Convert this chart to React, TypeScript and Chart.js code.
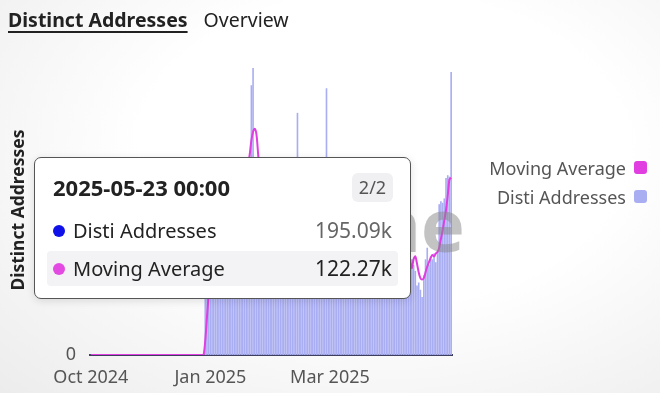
import React, { useEffect, useRef } from "react";
import { Chart, registerables } from "chart.js";

Chart.register(...registerables);

// ---- data ----
const START_DATE = "2024-10-24";
const DAY_COUNT = 212;
const TICK_INDICES = [0, 70, 140];
const MONTH_NAMES = ["Jan", "Feb", "Mar", "Apr", "May", "Jun", "Jul", "Aug", "Sep", "Oct", "Nov", "Dec"];
const Y_MAX = 200;
const Y_STEP = 100;

const SERIES_NAMES = ["Moving Average", "Disti Addresses"];
const LINE_COLOR = "#e03ee0";
const BAR_COLOR = "#a9adf2";
const TOOLTIP_DOT_COLORS = ["#1010e8", "#e24ae2"];

// Distinct addresses per day (thousands)
const BAR_VALUES = [
  0, 0, 0, 0, 0, 0, 0, 0, 0, 0, 0, 0, 0, 0, 0, 0, 0, 0, 0, 0,
  0, 0, 0, 0, 0, 0, 0, 0, 0, 0, 0, 0, 0, 0, 0, 0, 0, 0, 0, 0,
  0, 0, 0, 0, 0, 0, 0, 0, 0, 0, 0, 0, 0, 0, 0, 0, 0, 0, 0, 0,
  0, 0, 0, 0, 0, 0, 0,
  118, 125, 110, 122, 115, 128, 120, 112, 126, 119, 130, 121, 114, 124, 117, 127, 120,
  113, 125, 118, 129, 122, 116, 126, 131, 128, 133, 186, 198, 134, 130, 120, 112, 104,
  98, 102, 95, 100, 93, 97, 90, 96, 92, 99, 94, 89, 95, 91, 97, 88, 93, 90, 96, 92,
  167, 94, 89, 93, 87, 92, 88, 95, 90, 86, 91, 88, 93, 85, 90, 87, 92, 184, 89, 85,
  90, 84, 88, 82, 87, 83, 86, 80, 85, 81, 84, 79, 83, 78, 82, 77, 81, 76, 80, 75,
  79, 74, 78, 73, 76, 72, 75, 70, 74, 69, 73, 68, 71, 67, 70, 66, 69, 65, 68, 64,
  67, 63, 66, 62, 65,
  64, 60, 66, 62, 58, 48, 50, 45, 40, 55, 66, 74, 62, 68, 66, 70, 64, 72, 104, 106,
  105, 108, 122, 124, 123, 195.09,
];

// Moving average (thousands)
const MA_VALUES = [
  0, 0, 0, 0, 0, 0, 0, 0, 0, 0, 0, 0, 0, 0, 0, 0, 0, 0, 0, 0,
  0, 0, 0, 0, 0, 0, 0, 0, 0, 0, 0, 0, 0, 0, 0, 0, 0, 0, 0, 0,
  0, 0, 0, 0, 0, 0, 0, 0, 0, 0, 0, 0, 0, 0, 0, 0, 0, 0, 0, 0,
  0, 0, 0, 0, 0, 0, 0,
  10, 26, 42, 58, 72, 84, 94, 102, 108, 112, 115, 117, 118, 119, 120, 121, 121,
  120, 121, 122, 122, 123, 124, 125, 127, 131, 138, 148, 154, 156, 152, 138, 124, 114,
  108, 104, 101, 99, 98, 97, 96, 95, 95, 94, 94, 93, 93, 93, 92, 92, 92, 93, 96, 100,
  104, 103, 100, 97, 94, 92, 91, 90, 90, 89, 89, 89, 88, 88, 88, 89, 92, 97, 99, 98,
  95, 91, 88, 86, 85, 84, 83, 83, 82, 81, 81, 80, 80, 79, 79, 78, 78, 77, 77, 76,
  76, 75, 75, 74, 74, 73, 73, 72, 72, 71, 71, 70, 70, 69, 69, 68, 68, 67, 67, 66,
  66, 66, 65, 65, 65,
  66, 64, 60, 66, 68, 63, 57, 53, 52, 53, 57, 61, 64, 67, 69, 68, 70, 71, 74, 80,
  86, 93, 100, 110, 121, 122.27,
];

function buildDates(): string[] {
  const out: string[] = [];
  const d = new Date(START_DATE + "T00:00:00Z");
  for (let i = 0; i < DAY_COUNT; i++) {
    out.push(d.toISOString().slice(0, 10));
    d.setUTCDate(d.getUTCDate() + 1);
  }
  return out;
}
const DATES = buildDates();

function monthLabel(iso: string): string {
  const [y, m] = iso.split("-");
  return MONTH_NAMES[parseInt(m, 10) - 1] + " " + y;
}

const FONT = '"Noto Sans", "Open Sans", sans-serif';

export default function App() {
  const canvasRef = useRef<HTMLCanvasElement | null>(null);

  useEffect(() => {
    if (!canvasRef.current) return;
    const watermark = {
      id: "watermark",
      afterDatasetsDraw(chart: any) {
        const { ctx, chartArea } = chart;
        ctx.save();
        ctx.font = `bold 74px ${FONT}`;
        ctx.fillStyle = "rgba(135,135,135,0.5)";
        ctx.textAlign = "right";
        ctx.textBaseline = "alphabetic";
        ctx.fillText("Dune", chartArea.right + 13, 252);
        ctx.restore();
      },
    };
    const chart = new Chart(canvasRef.current, {
      type: "bar",
      data: {
        labels: DATES,
        datasets: [
          {
            type: "line",
            label: SERIES_NAMES[0],
            data: MA_VALUES,
            borderColor: LINE_COLOR,
            backgroundColor: LINE_COLOR,
            borderWidth: 2,
            pointRadius: 0,
            tension: 0.3,
            order: 1,
          } as any,
          {
            type: "bar",
            label: SERIES_NAMES[1],
            data: BAR_VALUES,
            backgroundColor: BAR_COLOR,
            barPercentage: 0.95,
            categoryPercentage: 1,
            order: 2,
          },
        ],
      },
      options: {
        responsive: false,
        animation: false,
        layout: { padding: { top: 65, right: 18, left: 0, bottom: 0 } },
        plugins: {
          legend: { display: false },
          tooltip: { enabled: false },
        },
        scales: {
          x: {
            type: "category",
            offset: true,
            grid: { display: false, drawTicks: false },
            border: { display: true, color: "#3d3f5c", width: 2 },
            ticks: {
              autoSkip: false,
              maxRotation: 0,
              padding: 12,
              color: "#555",
              font: { family: FONT, size: 18 },
              callback: (_v: any, i: number) => (TICK_INDICES.includes(i) ? monthLabel(DATES[i]) : ""),
            },
            afterFit: (s: any) => {
              s.height = 38;
            },
          },
          y: {
            min: 0,
            max: Y_MAX,
            grid: { display: false, drawTicks: false },
            border: { display: false },
            ticks: {
              stepSize: Y_STEP,
              padding: 14,
              color: "#555",
              font: { family: FONT, size: 18 },
              callback: (v: any) => (v === 0 ? "0" : v < Y_MAX ? v + "k" : ""),
            },
            title: {
              display: true,
              text: "Distinct Addresses",
              color: "#222",
              font: { family: FONT, size: 17.5, weight: "bold" },
              padding: { top: 9, bottom: 0 },
            },
            afterFit: (s: any) => {
              s.width = 90;
            },
          },
        },
      } as any,
      plugins: [watermark],
    });
    return () => chart.destroy();
  }, []);

  const last = DAY_COUNT - 1;
  const rows = [
    { name: SERIES_NAMES[1], value: BAR_VALUES[last], color: TOOLTIP_DOT_COLORS[0], valueColor: "#666", hl: false },
    { name: SERIES_NAMES[0], value: MA_VALUES[last], color: TOOLTIP_DOT_COLORS[1], valueColor: "#222", hl: true },
  ];

  return (
    <div
      style={{
        position: "fixed",
        left: 0,
        top: 0,
        width: 660,
        height: 393,
        overflow: "hidden",
        fontFamily: FONT,
        background: "radial-gradient(ellipse at 58% 38%, #ffffff 45%, #ececec 100%)",
      }}
    >
      {/* header */}
      <div style={{ position: "absolute", left: 8, top: 5, fontSize: 19.5, lineHeight: "30px", color: "#222", whiteSpace: "nowrap" }}>
        <span style={{ fontWeight: 700, textDecoration: "underline", textDecorationThickness: 2, textUnderlineOffset: 4 }}>
          Distinct Addresses
        </span>
        <span style={{ marginLeft: 16 }}>Overview</span>
      </div>

      <canvas ref={canvasRef} width={470} height={393} style={{ position: "absolute", left: 0, top: 0 }} />

      {/* legend */}
      <div style={{ position: "absolute", right: 13, top: 153, textAlign: "right" }}>
        {[
          { name: SERIES_NAMES[0], color: LINE_COLOR },
          { name: SERIES_NAMES[1], color: BAR_COLOR },
        ].map((it) => (
          <div key={it.name} style={{ display: "flex", justifyContent: "flex-end", alignItems: "center", height: 29 }}>
            <span style={{ fontSize: 18, color: "#555", whiteSpace: "nowrap" }}>{it.name}</span>
            <span style={{ display: "inline-block", width: 13, height: 13, borderRadius: 3, background: it.color, marginLeft: 8 }} />
          </div>
        ))}
      </div>

      {/* tooltip */}
      <div
        style={{
          position: "absolute",
          left: 34,
          top: 157,
          width: 377,
          height: 142,
          boxSizing: "border-box",
          border: "1.5px solid #555",
          borderRadius: 7,
          background: "#fff",
          boxShadow: "0 2px 8px rgba(0,0,0,0.12)",
        }}
      >
        <div style={{ position: "absolute", left: 18, top: 14, fontSize: 22, fontWeight: 700, color: "#222", lineHeight: "30px", whiteSpace: "nowrap" }}>
          {DATES[last]} 00:00
        </div>
        <div
          style={{
            position: "absolute",
            left: 317,
            top: 15,
            width: 41,
            height: 29,
            borderRadius: 6,
            background: "#f0f0f2",
            color: "#555",
            fontSize: 18,
            lineHeight: "29px",
            textAlign: "center",
          }}
        >
          2/2
        </div>
        {rows.map((r, k) => (
          <div
            key={r.name}
            style={{
              position: "absolute",
              left: 12,
              top: 55 + k * 38,
              width: 351,
              height: 35,
              borderRadius: 4,
              background: r.hl ? "#f3f3f5" : "transparent",
            }}
          >
            <span
              style={{
                position: "absolute",
                left: 6,
                top: 11.5,
                width: 12,
                height: 12,
                borderRadius: 6,
                background: r.color,
              }}
            />
            <span style={{ position: "absolute", left: 26, top: 0, lineHeight: "35px", fontSize: 20, color: "#222", whiteSpace: "nowrap" }}>
              {r.name}
            </span>
            <span style={{ position: "absolute", right: 6, top: 0, lineHeight: "35px", fontSize: 21, color: r.valueColor, whiteSpace: "nowrap" }}>
              {r.value.toFixed(2)}k
            </span>
          </div>
        ))}
      </div>
    </div>
  );
}
